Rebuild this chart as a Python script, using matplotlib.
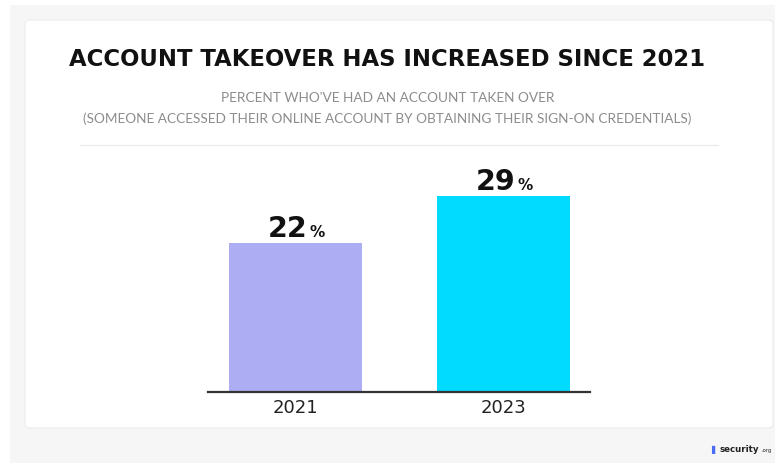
import matplotlib.pyplot as plt
from matplotlib.patches import FancyBboxPatch, Rectangle
from matplotlib.lines import Line2D

years = ["2021", "2023"]
percents = [22, 29]
bar_colors = ["#adadf4", "#00dbff"]

title = "ACCOUNT TAKEOVER HAS INCREASED SINCE 2021"
subtitle1 = "PERCENT WHO'VE HAD AN ACCOUNT TAKEN OVER"
subtitle2 = "(SOMEONE ACCESSED THEIR ONLINE ACCOUNT BY OBTAINING THEIR SIGN-ON CREDENTIALS)"

W, H = 775, 463
fig = plt.figure(figsize=(W / 100, H / 100), dpi=100)
fig.patch.set_facecolor("white")


def fx(px):
    return px / W


def fy(py):
    return 1 - py / H


# page background and white card
fig.patches.append(Rectangle((fx(10), 0), 1, fy(5), transform=fig.transFigure,
                             facecolor="#f6f6f6", edgecolor="none", zorder=-2))
fig.patches.append(FancyBboxPatch((fx(25), fy(428)), fx(773) - fx(25), fy(20) - fy(428),
                                  boxstyle="round,pad=0,rounding_size=0.008",
                                  transform=fig.transFigure, facecolor="white",
                                  edgecolor="#ececec", linewidth=0.8, zorder=-1))

fig.text(0.5, fy(60), title, ha="center", va="center", fontsize=16.4,
         fontweight="bold", family="DejaVu Sans", color="#111111")
fig.text(0.5, fy(98), subtitle1, ha="center", va="center", fontsize=9.8,
         family="Lato", color="#8c8c8c")
fig.text(0.5, fy(119), subtitle2, ha="center", va="center", fontsize=9.8,
         family="Lato", color="#8c8c8c")
fig.lines.append(Line2D([fx(80), fx(718)], [fy(145), fy(145)], transform=fig.transFigure,
                        color="#ededed", linewidth=1))

ax = fig.add_axes([fx(208), fy(392), fx(590) - fx(208), fy(155) - fy(392)])
ax.set_zorder(2)
ax.set_facecolor("none")
x = range(len(years))
bars = ax.bar(x, percents, width=0.64, color=bar_colors)
ax.set_xlim(-0.42, 1.416)
ax.set_ylim(0, 35)

for b, v in zip(bars, percents):
    cx = b.get_x() + b.get_width() / 2
    ax.annotate(str(v), (cx, v), xytext=(12, 6), textcoords="offset pixels",
                ha="right", va="baseline", fontsize=20.5, fontweight="bold",
                family="DejaVu Sans", color="#111111")
    ax.annotate("%", (cx, v), xytext=(14, 6), textcoords="offset pixels",
                ha="left", va="baseline", fontsize=11, fontweight="bold",
                family="DejaVu Sans", color="#111111")

for s in ["top", "right", "left"]:
    ax.spines[s].set_visible(False)
ax.spines["bottom"].set_color("#333333")
ax.spines["bottom"].set_linewidth(1.6)
ax.set_yticks([])
ax.set_xticks(list(x))
ax.set_xticklabels(years, fontsize=13, family="DejaVu Sans", color="#222222")
ax.tick_params(axis="x", length=0, pad=5)

# logo text
fig.text(fx(720), fy(449), "security", ha="left", va="center", fontsize=6.2,
         fontweight="bold", family="DejaVu Sans", color="#222222")
fig.text(fx(761), fy(450.5), ".org", ha="left", va="center", fontsize=3.8,
         family="DejaVu Sans", color="#222222")
fig.text(fx(711), fy(449), "\u258c", ha="left", va="center", fontsize=6,
         family="DejaVu Sans", color="#4a6cf7")

fig.savefig("out.png", dpi=100)
